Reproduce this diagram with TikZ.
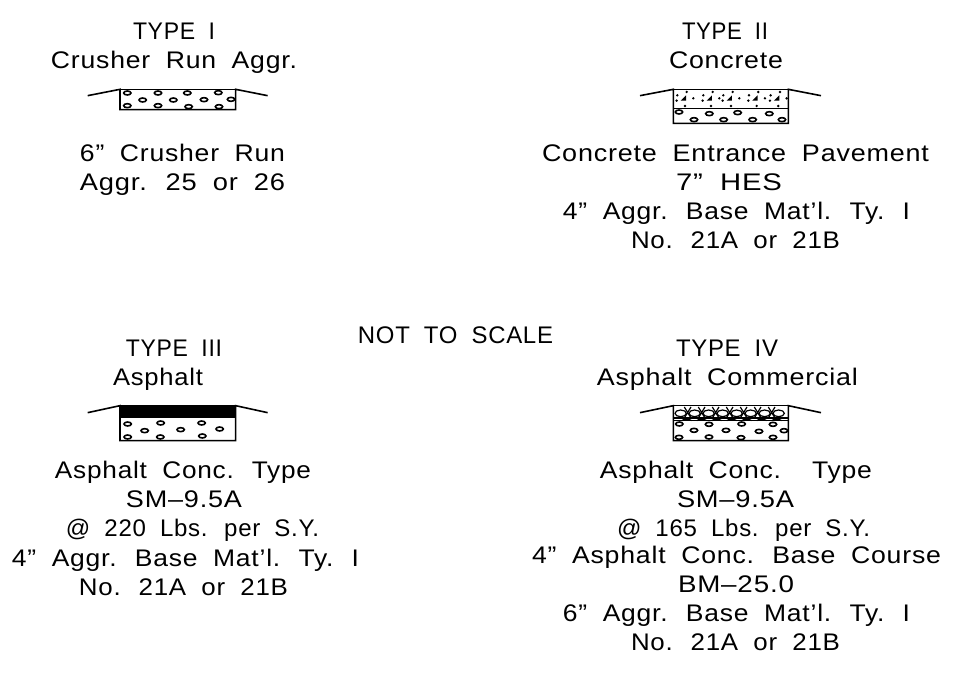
\documentclass[tikz,border=0pt]{standalone}
\usepackage{fontspec}
\usepackage{graphicx}
\setmainfont[LetterSpace=3,WordSpace=1.9]{Liberation Sans}
\tikzset{
  lbl/.style={inner sep=0pt,anchor=base,font=\fontsize{24}{24}\selectfont},
  cad/.style={line width=1.6pt,black},
  thin cad/.style={line width=1.2pt,black},
  pebble/.style={line width=1.6pt,black}
}
\newcommand{\lab}[5]{% name, left, right, ycentre, text
  \node[lbl] (#1) at ({(#2+#3)/2},#4+8.5) {\resizebox{\dimexpr #3pt-#2pt\relax}{\height}{#5}};}
\newcommand{\peb}[1]{\foreach \px/\py in {#1}{\draw[pebble] (\px,\py) ellipse (11 and 6);}}
\begin{document}
\begin{tikzpicture}[x=1pt,y=-1pt]
\useasboundingbox (0,0) rectangle (980,676);
\fill[white] (0,0) rectangle (980,676);
% labels
\lab{a1}{133}{215}{31}{TYPE I}
\lab{a2}{51}{297}{60}{Crusher Run Aggr.}
\lab{a3}{80}{285}{153}{6'' Crusher Run}
\lab{a4}{80}{285}{182}{Aggr. 25 or 26}
\lab{b1}{682}{768}{31}{TYPE II}
\lab{b2}{669}{783}{60}{Concrete}
\lab{b3}{542}{929}{153}{Concrete Entrance Pavement}
\lab{b4}{676}{782}{182}{7'' HES}
\lab{b5}{563}{910}{211}{4'' Aggr. Base Mat'l. Ty. I}
\lab{b6}{631}{840}{240}{No. 21A or 21B}
\lab{n1}{358}{553}{335}{NOT TO SCALE}
\lab{c1}{126}{222}{348}{TYPE III}
\lab{c2}{113}{203}{377}{Asphalt}
\lab{c3}{55}{311}{470}{Asphalt Conc. Type}
\lab{c4}{126}{242}{499}{SM--9.5A}
\lab{c5}{66}{319}{528}{@ 220 Lbs. per S.Y.}
\lab{c6}{12}{359}{558}{4'' Aggr. Base Mat'l. Ty. I}
\lab{c7}{79}{288}{587}{No. 21A or 21B}
\lab{d1}{676}{778}{348}{TYPE IV}
\lab{d2}{597}{858}{377}{Asphalt Commercial}
\lab{d3}{600}{872}{470}{Asphalt Conc.\ \ Type}
\lab{d4}{677}{794}{499}{SM--9.5A}
\lab{d5}{617}{870}{528}{@ 165 Lbs. per S.Y.}
\lab{d6}{532}{941}{555}{4'' Asphalt Conc. Base Course}
\lab{d7}{678}{794}{584}{BM--25.0}
\lab{d8}{563}{910}{613}{6'' Aggr. Base Mat'l. Ty. I}
\lab{d9}{631}{840}{642}{No. 21A or 21B}
% Type I section
\begin{scope}[shift={(70,70)},x=.3333pt,y=-.3333pt]
\draw[cad] (53,77) -- (150,58) -- (150,119) -- (497,119) -- (497,58) -- (593,77);
\draw[cad] (150,58) -- (497,58);
\peb{172/69,172/107,218/90,264/69,264/107,310/90,352/69,356/110,402/89,445/68,447/110,483/88}
\end{scope}
% Type II section
\begin{scope}[shift={(620,70)},x=.3333pt,y=-.3333pt]
\draw[cad] (60,77) -- (160,58) -- (160,160) -- (505,160) -- (505,58) -- (603,77);
\draw[cad] (160,58) -- (505,58) (160,115) -- (505,115);
\foreach \tx in {190,268,328,405,470}{
  \fill (\tx-8,92) -- (\tx+8,76) -- (\tx+8,92) -- cycle;
  \fill (\tx+10,66) circle (4);
  \fill (\tx-18,76) circle (4);
  \fill (\tx-20,92) circle (4);
  \fill (\tx+30,85) circle (4);
  \fill (\tx+5,108) circle (4);
}
\peb{177/126,222/149,268/131,311/149,353/128,398/149,448/131,486/149}
\end{scope}
% Type III section
\begin{scope}[shift={(70,390)},x=.3333pt,y=-.3333pt]
\fill[black] (150,47) rectangle (497,83);
\draw[cad] (53,68) -- (150,47) -- (150,152) -- (497,152) -- (497,47) -- (593,68);
\draw[cad] (150,47) -- (497,47);
\peb{173/102,173/141,224/122,272/99,271/141,332/119,395/99,397/138,449/117}
\end{scope}
% Type IV section
\begin{scope}[shift={(620,390)},x=.3333pt,y=-.3333pt]
\foreach \ox in {182,224,266,308,350,392,434,476}{
  \draw[thin cad] (\ox,70) ellipse (17 and 10);
}
\foreach \ox in {203,245,287,329,371,413,455}{
  \draw[thin cad] (\ox-10,51) -- (\ox+10,84) (\ox-10,84) -- (\ox+10,51);
}
\draw[thin cad] (160,84) -- (505,84);
\foreach \ox in {200,245,290,335,380,425,470}{\draw[thin cad] (\ox-15,92) .. controls (\ox-8,86) and (\ox+8,86) .. (\ox+15,92);}
\draw[cad] (60,68) -- (160,47) -- (160,152) -- (505,152) -- (505,47) -- (603,68);
\draw[cad] (160,47) -- (505,47) (160,92) -- (505,92);
\peb{178/102,222/121,267/103,318/121,365/102,417/124,459/103,492/122,177/142,267/141,363/143,459/142}
\end{scope}
\end{tikzpicture}
\end{document}
